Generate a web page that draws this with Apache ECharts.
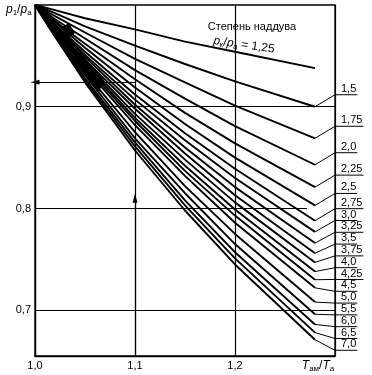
<!DOCTYPE html>
<html><head><meta charset="utf-8">
<script src="https://cdn.jsdelivr.net/npm/echarts@6/dist/echarts.min.js"></script>
<style>html,body{margin:0;padding:0;background:#fff}#c{width:372px;height:375px}</style>
</head><body><div id="c"></div>
<script>
// x positions (Tам/Tа) at which the curves were read
const xPoints = [1.0, 1.02, 1.05, 1.1, 1.15, 1.2, 1.28];
// curve labels (pк/pа)
const ratioLabels = ['1,25','1,5','1,75','2,0','2,25','2,5','2,75','3,0','3,25','3,5','3,75','4,0','4,25','4,5','5,0','5,5','6,0','6,5','7,0'];
// p1/pа values read for each curve at xPoints
const r1_25 = [1, 0.995, 0.987, 0.976, 0.964, 0.954, 0.938];
const r1_5  = [1, 0.992, 0.979, 0.960, 0.942, 0.925, 0.900];
const r1_75 = [1, 0.989, 0.973, 0.947, 0.924, 0.901, 0.869];
const r2_0  = [1, 0.986, 0.967, 0.936, 0.908, 0.881, 0.843];
const r2_25 = [1, 0.984, 0.962, 0.927, 0.894, 0.864, 0.821];
const r2_5  = [1, 0.983, 0.958, 0.919, 0.883, 0.850, 0.803];
const r2_75 = [1, 0.981, 0.954, 0.912, 0.874, 0.839, 0.788];
const r3_0  = [1, 0.980, 0.951, 0.907, 0.867, 0.830, 0.777];
const r3_25 = [1, 0.979, 0.949, 0.902, 0.860, 0.821, 0.766];
const r3_5  = [1, 0.978, 0.946, 0.898, 0.854, 0.813, 0.756];
const r3_75 = [1, 0.977, 0.944, 0.893, 0.848, 0.806, 0.747];
const r4_0  = [1, 0.976, 0.942, 0.889, 0.842, 0.799, 0.738];
const r4_25 = [1, 0.975, 0.940, 0.886, 0.837, 0.793, 0.730];
const r4_5  = [1, 0.974, 0.938, 0.882, 0.832, 0.786, 0.722];
const r5_0  = [1, 0.973, 0.934, 0.875, 0.822, 0.775, 0.708];
const r5_5  = [1, 0.971, 0.931, 0.869, 0.815, 0.765, 0.696];
const r6_0  = [1, 0.970, 0.928, 0.865, 0.808, 0.757, 0.686];
const r6_5  = [1, 0.969, 0.926, 0.861, 0.803, 0.751, 0.678];
const r7_0  = [1, 0.969, 0.924, 0.857, 0.798, 0.745, 0.671];
const curves = [r1_25,r1_5,r1_75,r2_0,r2_25,r2_5,r2_75,r3_0,r3_25,r3_5,r3_75,r4_0,r4_25,r4_5,r5_0,r5_5,r6_0,r6_5,r7_0];
// dark merged zones where the dense curves run together (corners, in axis units)
const blockA = [[1.027, 0.9784], [1.034, 0.9823], [1.040, 0.9725], [1.033, 0.9676]];
const blockB = [[1.037, 0.9479], [1.045, 0.9538], [1.069, 0.9263], [1.064, 0.9145]];
// axis ticks
const xTicks = [1.0, 1.1, 1.2];
const yTicks = [0.7, 0.8, 0.9];
// example reading (arrows)
const exampleX = 1.1;
const exampleY = 0.924;
const arrowUpTo = 0.81;

const FONT = '"Liberation Sans", Arial, sans-serif';
const chart = echarts.init(document.getElementById('c'), null, {renderer:'canvas'});
const fmt = v => v.toFixed(1).replace('.', ',');

const mctx = document.createElement('canvas').getContext('2d');
mctx.font = '11px ' + FONT;

const lineSeries = curves.map((vals, k) => ({
  type: 'line', name: ratioLabels[k],
  data: xPoints.map((x, i) => [x, vals[i]]),
  symbol: 'none', smooth: false,
  lineStyle: {color: '#000', width: 1.9, join: 'round'}, z: 3, silent: true
}));

const blocks = [blockA, blockB];
const blockSeries = {
  type: 'custom', silent: true, z: 3,
  data: blocks.map((b, i) => [b[0][0], b[0][1], i]),
  renderItem: function(params, api) {
    const b = blocks[params.dataIndex];
    return {type: 'polygon', shape: {points: b.map(p => api.coord(p))}, style: {fill: '#000'}};
  }
};

// label leader data for curves 1,5 .. 7,0
const leaderData = curves.slice(1).map((vals, k) => [xPoints[xPoints.length-1], vals[vals.length-1], ratioLabels[k+1]]);

const leaderSeries = {
  type: 'custom', clip: false, silent: true, z: 4,
  data: leaderData.map(d => [d[0], d[1]]),
  renderItem: function(params, api) {
    const idx = params.dataIndex;
    let prev = -1e9, ly = 0;
    for (let i = 0; i <= idx; i++) {
      const p = api.coord([leaderData[i][0], leaderData[i][1]]);
      ly = Math.max(p[1] - 12, prev + 11.8);
      prev = ly;
    }
    const pe = api.coord([api.value(0), api.value(1)]);
    const fx = api.coord([1.3, 1.0])[0];
    const txt = leaderData[idx][2];
    const tw = mctx.measureText(txt).width;
    const tx = fx + 6;
    return {
      type: 'group',
      children: [
        {type: 'polyline', shape: {points: [pe, [fx, ly], [tx + tw + 1, ly]]},
         style: {stroke: '#000', lineWidth: 1, fill: null}},
        {type: 'text', style: {text: txt, x: tx, y: ly - 0.5, font: '11px ' + FONT,
          fill: '#000', align: 'left', verticalAlign: 'bottom'}}
      ]
    };
  }
};

lineSeries[0].markLine = {
  silent: true, animation: false,
  label: {show: false},
  lineStyle: {color: '#000', type: 'solid', width: 1.2},
  symbol: 'none',
  data: [
    [{coord: [1.0, yTicks[2]]}, {coord: [1.3, yTicks[2]]}],
    [{coord: [1.0, yTicks[0]]}, {coord: [1.3, yTicks[0]]}],
    [{coord: [1.0, yTicks[1]]}, {coord: [1.272, yTicks[1]]}],
    [{coord: [exampleX, 0.655], symbol: 'none'}, {coord: [exampleX, arrowUpTo], symbol: 'triangle', symbolSize: [5, 9]}],
    [{coord: [exampleX, exampleY], symbol: 'none'}, {coord: [1.0, exampleY], symbol: 'triangle', symbolSize: [5, 9]}]
  ]
};

const option = {
  animation: false,
  backgroundColor: '#fff',
  grid: {left: 35, right: 37, top: 5, bottom: 19, show: true, borderColor: '#000', borderWidth: 1.3},
  xAxis: {
    type: 'value', min: 1.0, max: 1.3, interval: 0.1,
    axisLine: {show: true, onZero: false, lineStyle: {color: '#000', width: 1.3}},
    axisTick: {show: false},
    splitLine: {show: true, lineStyle: {color: '#000', width: 1.2}},
    axisLabel: {color: '#000', fontFamily: FONT, fontSize: 11, margin: 4,
      formatter: v => (xTicks.some(t => Math.abs(t - v) < 1e-6) ? fmt(v) : '')}
  },
  yAxis: {
    type: 'value', min: 0.655, max: 1.0,
    axisLine: {show: true, onZero: false, lineStyle: {color: '#000', width: 1.3}},
    axisTick: {show: false},
    splitLine: {show: false},
    axisLabel: {color: '#000', fontFamily: FONT, fontSize: 11, margin: 4,
      customValues: yTicks,
      formatter: v => (yTicks.some(t => Math.abs(t - v) < 1e-6) ? fmt(v) : '')}
  },
  graphic: [
    {type: 'text', left: 6, top: 4, silent: true,
     style: {text: '{i|p}{s|1}{n|/}{i|p}{s|а}', font: '11px ' + FONT, fill: '#000',
       rich: {i: {fontStyle: 'italic', fontSize: 12, fontFamily: FONT, lineHeight: 14, verticalAlign: 'middle'},
              n: {fontSize: 12, fontFamily: FONT, lineHeight: 14, verticalAlign: 'middle'},
              s: {fontSize: 8, fontFamily: FONT, lineHeight: 9, verticalAlign: 'bottom'}}}},
    {type: 'text', x: 252, y: 27, silent: true,
     style: {text: 'Степень наддува', font: '11px ' + FONT, fill: '#000', align: 'center', verticalAlign: 'middle'}},
    {type: 'text', x: 244, y: 45, rotation: -8 * Math.PI / 180, silent: true,
     style: {text: '{i|p}{s|к}{n|/}{i|p}{s|а}{n| = 1,25}', fill: '#000', align: 'center', verticalAlign: 'middle',
       rich: {i: {fontStyle: 'italic', fontSize: 12, fontFamily: FONT, lineHeight: 14, verticalAlign: 'middle'},
              n: {fontSize: 12, fontFamily: FONT, lineHeight: 14, verticalAlign: 'middle'},
              s: {fontSize: 8, fontFamily: FONT, lineHeight: 9, verticalAlign: 'bottom'}}}},
    {type: 'text', x: 318, y: 366, silent: true,
     style: {text: '{i|T}{s|ам}{n|/}{i|T}{s|а}', fill: '#000', align: 'center', verticalAlign: 'middle',
       rich: {i: {fontStyle: 'italic', fontSize: 12, fontFamily: FONT, lineHeight: 14, verticalAlign: 'middle'},
              n: {fontSize: 12, fontFamily: FONT, lineHeight: 14, verticalAlign: 'middle'},
              s: {fontSize: 8, fontFamily: FONT, lineHeight: 9, verticalAlign: 'bottom'}}}}
  ],
  series: lineSeries.concat([blockSeries, leaderSeries])
};
chart.setOption(option);
</script>
</body></html>
